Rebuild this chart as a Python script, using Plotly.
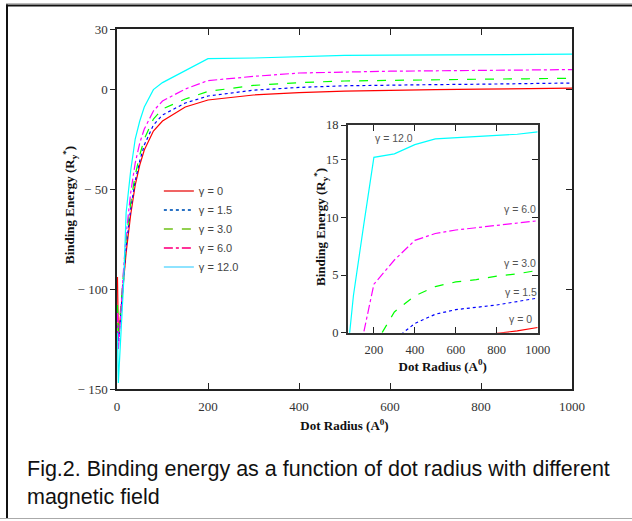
import plotly.graph_objects as go

# ---------------- data ----------------
radius = [1, 3, 5, 10, 15, 20, 30, 40, 50, 60, 80, 100, 150, 200,
          300, 400, 500, 600, 700, 800, 900, 1000]

be_g0 = [-94, -125, -120, -108, -95, -82, -63, -48, -38, -30.5, -21, -16, -9, -5.5,
         -3, -1.8, -1.1, -0.6, -0.35, -0.05, 0.15, 0.45]
be_g15 = [-118, -128, -122, -106, -92, -79, -60, -46, -36, -28, -18, -13, -7, -3.5,
          -0.6, 0.8, 1.6, 2.0, 2.2, 2.4, 2.7, 3.0]
be_g3 = [-108, -124, -118, -103, -89, -76, -57, -43, -33, -25, -15, -10, -5, -1.2,
         1.8, 3.2, 4.0, 4.4, 4.6, 4.9, 5.1, 5.4]
be_g6 = [-112, -130, -124, -104, -88, -73, -52, -37, -27, -20, -11, -6, 0, 4.2,
         6.3, 8.0, 8.6, 8.9, 9.1, 9.3, 9.5, 9.7]
be_g12 = [-122, -147, -138, -118, -95, -62, -41, -25, -16, -9, -0.3, 3.2, 9.3, 15.2,
          15.5, 16.3, 16.8, 16.9, 17.0, 17.1, 17.2, 17.4]

series_names = ["γ = 0", "γ = 1.5", "γ = 3.0", "γ = 6.0", "γ = 12.0"]
series_vals = [be_g0, be_g15, be_g3, be_g6, be_g12]
line_colors = ["#ff0000", "#0000ff", "#00ff00", "#ff00ff", "#00ffff"]
legend_colors = ["#f06464", "#2a72c4", "#92d050", "#ff3399", "#8ee3ff"]
line_dashes = ["solid", "dot", "dash", "dashdot", "solid"]

main_xticks = [0, 200, 400, 600, 800, 1000]
main_yticks = [-150, -100, -50, 0, 30]
main_yticktext = ["− 150", "− 100", "− 50", "0", "30"]
inset_xticks = [200, 400, 600, 800, 1000]
inset_yticks = [0, 5, 10, 15, 18]

inset_label_x = [851, 832, 824, 824, 195]
inset_label_y = [1.16, 3.57, 6.03, 10.76, 16.9]

y_title = "<b>Binding Energy (R<sub>y</sub><sup>*</sup>)</b>"
x_title = "<b>Dot Radius (A<sup>0</sup>)</b>"
caption = ("Fig.2. Binding energy as a function of dot radius with different"
           "<br>magnetic field")

# ---------------- figure ----------------
fig = go.Figure()

for name, vals, col, dash in zip(series_names, series_vals, line_colors, line_dashes):
    fig.add_trace(go.Scatter(x=radius, y=vals, mode="lines", name=name,
                             line=dict(color=col, width=1.2, dash=dash),
                             showlegend=False, xaxis="x", yaxis="y"))

for name, vals, col, dash in zip(series_names, series_vals, line_colors, line_dashes):
    fig.add_trace(go.Scatter(x=radius, y=vals, mode="lines", name=name,
                             line=dict(color=col, width=1.2, dash=dash),
                             showlegend=False, xaxis="x2", yaxis="y2"))

# legend entries (legend swatches have their own colours in the original)
for name, col, dash in zip(series_names, legend_colors, line_dashes):
    fig.add_trace(go.Scatter(x=[None], y=[None], mode="lines", name=name,
                             line=dict(color=col, width=2, dash=dash),
                             showlegend=True, xaxis="x", yaxis="y"))

tick_font = dict(family="Liberation Serif", size=13, color="#333")
title_font = dict(family="Liberation Serif", size=13, color="#111")
inset_tick_font = dict(family="Liberation Serif", size=12.5, color="#333")


def px_x(p):
    return (p - 117) / 455.0


def px_y(p):
    return 1 - (p - 29) / 360.0


fig.update_layout(
    width=632, height=521,
    margin=dict(l=117, r=60, t=29, b=132),
    paper_bgcolor="white", plot_bgcolor="white",
    showlegend=True,
    legend=dict(x=0.092, y=0.59, xanchor="left", yanchor="top",
                bgcolor="rgba(0,0,0,0)",
                font=dict(family="Liberation Sans", size=11, color="#444"),
                tracegroupgap=0),
    xaxis=dict(domain=[0, 1], range=[0, 1000], tickvals=main_xticks,
               ticks="inside", ticklen=6, tickcolor="#222", mirror="ticks",
               ticklabelstandoff=5,
               showline=True, linecolor="#222", linewidth=1.5,
               showgrid=False, zeroline=False, tickfont=tick_font,
               title=dict(text=x_title, font=title_font, standoff=8)),
    yaxis=dict(domain=[0, 1], range=[-150, 30], tickvals=main_yticks,
               ticktext=main_yticktext,
               ticks="outside", ticklen=5, tickcolor="#222", mirror=True,
               showline=True, linecolor="#222", linewidth=1.5,
               showgrid=False, zeroline=False, tickfont=tick_font),
    yaxis3=dict(overlaying="y", side="right", range=[-150, 30],
                tickvals=[-100, -50, 0], ticks="inside", ticklen=6,
                tickcolor="#222", showticklabels=False, showline=False,
                showgrid=False, zeroline=False),
    xaxis2=dict(domain=[0.507, 0.9246], anchor="y2", range=[72, 1000],
                tickvals=inset_xticks, ticks="inside", ticklen=6,
                tickcolor="#222", mirror="ticks", ticklabelstandoff=5,
                showline=True, linecolor="#333", linewidth=1.5,
                showgrid=False, zeroline=False, tickfont=inset_tick_font,
                title=dict(text=x_title, font=title_font, standoff=4)),
    yaxis2=dict(domain=[0.1564, 0.7333], anchor="x2", range=[0, 18],
                tickvals=inset_yticks, ticks="outside", ticklen=5,
                tickcolor="#222", mirror=True,
                showline=True, linecolor="#333", linewidth=1.5,
                showgrid=False, zeroline=False, tickfont=inset_tick_font),
    yaxis4=dict(overlaying="y2", anchor="x2", side="right", range=[0, 18],
                tickvals=[5, 10, 15], ticks="inside", ticklen=6,
                tickcolor="#222", showticklabels=False, showline=False,
                showgrid=False, zeroline=False),
)

# dummy traces to activate the right-side tick axes
fig.add_trace(go.Scatter(x=[None], y=[None], xaxis="x", yaxis="y3", showlegend=False))
fig.add_trace(go.Scatter(x=[None], y=[None], xaxis="x2", yaxis="y4", showlegend=False))

# y-axis titles (rotated)
fig.add_annotation(x=px_x(70), y=px_y(205), xref="paper", yref="paper",
                   text=y_title, textangle=-90, showarrow=False,
                   xanchor="center", yanchor="middle", font=title_font)
fig.add_annotation(x=px_x(321), y=px_y(227), xref="paper", yref="paper",
                   text=y_title, textangle=-90, showarrow=False,
                   xanchor="center", yanchor="middle", font=title_font)

# inset curve labels
for name, lx, ly in zip(series_names, inset_label_x, inset_label_y):
    fig.add_annotation(x=lx, y=ly, xref="x2", yref="y2", text=name,
                       showarrow=False, xanchor="left", yanchor="middle",
                       font=dict(family="Liberation Sans", size=10.5, color="#555"))

# caption
fig.add_annotation(x=px_x(25), y=px_y(483), xref="paper", yref="paper",
                   text=caption, showarrow=False, xanchor="left", yanchor="middle",
                   align="left",
                   font=dict(family="Liberation Sans", size=21.5, color="#111"))

# outer frame lines
fig.add_shape(type="line", xref="paper", yref="paper",
              x0=px_x(6), x1=px_x(632), y0=px_y(3.5), y1=px_y(3.5),
              line=dict(color="#bbbbbb", width=1))
fig.add_shape(type="line", xref="paper", yref="paper",
              x0=px_x(6), x1=px_x(632), y0=px_y(5.5), y1=px_y(5.5),
              line=dict(color="#111", width=2))
fig.add_shape(type="line", xref="paper", yref="paper",
              x0=px_x(7), x1=px_x(7), y0=px_y(4.5), y1=px_y(518),
              line=dict(color="#111", width=2))
fig.add_shape(type="line", xref="paper", yref="paper",
              x0=px_x(0), x1=px_x(632), y0=px_y(518.5), y1=px_y(518.5),
              line=dict(color="#aaaaaa", width=1.2))

fig.write_html("out.html",
               config={"displayModeBar": False},
               post_script="document.body.style.margin='0';"
                           "document.body.style.overflow='hidden';")
